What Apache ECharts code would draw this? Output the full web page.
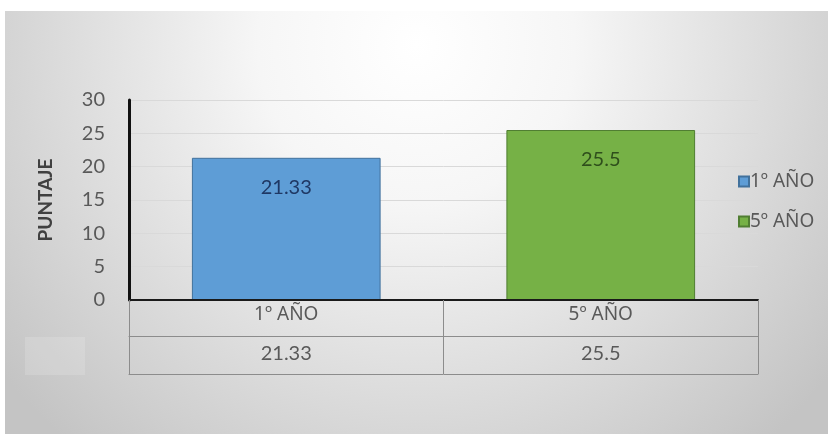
<!DOCTYPE html>
<html>
<head>
<meta charset="utf-8">
<script src="https://cdn.jsdelivr.net/npm/echarts@6/dist/echarts.min.js"></script>
<style>
html,body{margin:0;padding:0;background:#ffffff;}
#chart{width:828px;height:434px;}
</style>
</head>
<body>
<div id="chart"></div>
<script>
var categories = ['1º AÑO', '5º AÑO'];
var values = [21.33, 25.5];
var tableValues = ['21.33', '25.5'];
var yTicks = [0, 5, 10, 15, 20, 25, 30];

var chart = echarts.init(document.getElementById('chart'), null, {renderer: 'canvas'});
var font = 'Lato, "Open Sans", sans-serif';
var catFont = '"Noto Sans", "Open Sans", sans-serif';
var textColor = '#595959';
var tableLine = '#8c8c8c';

var colors = ['#5e9dd6', '#76b146'];
var borders = ['#41719c', '#507e32'];
var labelColors = ['#1f3864', '#2f4f1c'];

var series = categories.map(function (c, i) {
  var d = categories.map(function (_, j) { return j === i ? values[j] : '-'; });
  return {
    name: c,
    type: 'bar',
    data: d,
    barWidth: '60%',
    barGap: '-100%',
    itemStyle: {color: colors[i], borderColor: borders[i], borderWidth: 1},
    label: {
      show: true, position: 'insideTop', distance: 20,
      color: labelColors[i], fontFamily: font, fontSize: 20,
      formatter: function (p) { return p.value; }
    },
    z: 3
  };
});

chart.setOption({
  animation: false,
  graphic: [
    {
      type: 'rect', z: -10, silent: true,
      shape: {x: 5, y: 11, width: 823, height: 423},
      style: {
        fill: new echarts.graphic.RadialGradient(0.5, 0.08, 1.25, [
          {offset: 0, color: '#ffffff'},
          {offset: 0.3, color: '#f6f6f6'},
          {offset: 1, color: '#c4c4c4'}
        ])
      }
    },
    {
      type: 'rect', z: -9, silent: true,
      shape: {x: 25, y: 337, width: 60, height: 38},
      style: {fill: 'rgba(255,255,255,0.15)'}
    }
  ],
  legend: {
    orient: 'vertical',
    left: 733, top: 167,
    itemWidth: 10, itemHeight: 10, itemGap: 21,
    icon: 'rect',
    textStyle: {color: textColor, fontFamily: catFont, fontSize: 19, padding: [0, 0, 0, -4]},
    data: categories
  },
  grid: {left: 129, right: 70, top: 100, bottom: 134},
  xAxis: [
    {
      type: 'category', data: categories, position: 'bottom',
      axisLine: {show: true, lineStyle: {color: '#1a1a1a', width: 2}},
      axisTick: {show: true, length: 74, alignWithLabel: false, lineStyle: {color: tableLine, width: 1}},
      axisLabel: {color: textColor, fontFamily: catFont, fontSize: 19, margin: 5},
      z: 5
    },
    {
      type: 'category', data: tableValues, position: 'bottom', offset: 36,
      axisLine: {show: true, lineStyle: {color: tableLine, width: 1}},
      axisTick: {show: false},
      axisLabel: {color: textColor, fontFamily: font, fontSize: 20, margin: 8}
    },
    {
      type: 'category', data: categories, position: 'bottom', offset: 74,
      axisLine: {show: true, lineStyle: {color: tableLine, width: 1}},
      axisTick: {show: false},
      axisLabel: {show: false}
    }
  ],
  yAxis: {
    type: 'value', min: yTicks[0], max: yTicks[yTicks.length - 1], interval: 5,
    name: 'PUNTAJE', nameLocation: 'middle', nameGap: 74, nameRotate: 90,
    nameTextStyle: {color: '#404040', fontFamily: font, fontSize: 19, fontWeight: 'bold'},
    axisLine: {show: true, lineStyle: {color: '#111111', width: 3}},
    axisTick: {show: false},
    axisLabel: {color: textColor, fontFamily: font, fontSize: 20, margin: 24},
    splitLine: {show: true, lineStyle: {color: '#d9d9d9', width: 1}}
  },
  series: series
});
</script>
</body>
</html>
